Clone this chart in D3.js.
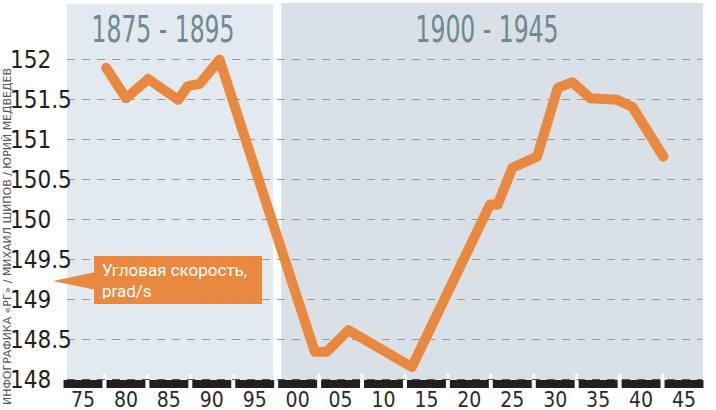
<!DOCTYPE html>
<html>
<head>
<meta charset="utf-8">
<title>Угловая скорость</title>
<script src="https://d3js.org/d3.v7.min.js"></script>
<style>
body { margin: 0; background: #fff; }
svg { display: block; }
.ylab { font-family: "Liberation Sans Narrow", "DejaVu Sans Condensed", sans-serif; font-size: 24px; fill: #231f20; }
.xlab { font-family: "Liberation Sans Narrow", "DejaVu Sans Condensed", sans-serif; font-size: 21px; fill: #2a2a2a; text-anchor: middle; }
.period { font-family: "Liberation Sans Narrow", "DejaVu Sans Condensed", sans-serif; font-size: 38px; fill: #6f8893; text-anchor: middle; }
.note { font-family: Roboto, "Open Sans", sans-serif; font-size: 17px; fill: #fff; }
.credit { font-family: "DejaVu Sans Condensed", sans-serif; font-size: 10px; fill: #555; }
</style>
</head>
<body>
<svg id="chart" width="716" height="410"></svg>
<script>
// angular velocity, prad/s
var years  = [1877.7, 1880.0, 1882.6, 1886.1, 1887.2, 1888.6, 1890.9, 1902.0, 1903.4, 1905.9, 1913.3,
              1922.4, 1923.3, 1925.0, 1927.9, 1930.3, 1932.0, 1934.1, 1937.2, 1939.0, 1942.6];
var values = [151.89, 151.51, 151.75, 151.49, 151.66, 151.69, 151.99, 148.34, 148.34, 148.61, 148.15,
              150.18, 150.18, 150.64, 150.78, 151.64, 151.71, 151.51, 151.49, 151.40, 150.78];

var tickYears  = [1875, 1880, 1885, 1890, 1895, 1900, 1905, 1910, 1915, 1920, 1925, 1930, 1935, 1940, 1945];
var tickLabels = ["75", "80", "85", "90", "95", "00", "05", "10", "15", "20", "25", "30", "35", "40", "45"];
var yTicks = [148, 148.5, 149, 149.5, 150, 150.5, 151, 151.5, 152];

var periods = [
  {label: "1875 - 1895", from: 1872.5, to: 1897.5, fill: "#e2eaf0"},
  {label: "1900 - 1945", from: 1897.5, to: 1947.5, fill: "#d9e0e6"}
];

var svg = d3.select("#chart");

var x = d3.scaleLinear().domain([1875, 1945]).range([83, 684]);
var y = d3.scaleLinear().domain([148, 152]).range([379, 59]);

// period panels
svg.selectAll("rect.panel")
  .data(periods)
  .enter().append("rect")
    .attr("class", "panel")
    .attr("x", function(d, i) { return x(d.from) + (i == 0 ? 5.5 : 5); })
    .attr("width", function(d, i) { return x(d.to) - x(d.from) - (i == 0 ? 8.5 : 7.5); })
    .attr("y", function(d, i) { return i == 0 ? 4 : 3; })
    .attr("height", function(d, i) { return i == 0 ? 376 : 377; })
    .attr("fill", function(d) { return d.fill; });

svg.selectAll("text.period")
  .data(periods)
  .enter().append("text")
    .attr("class", "period")
    .attr("x", function(d, i) { return i == 0 ? 163 : 487; })
    .attr("y", 42)
    .attr("textLength", 143)
    .attr("lengthAdjust", "spacingAndGlyphs")
    .text(function(d) { return d.label; });

// callout
var note = svg.append("g");
note.append("path")
  .attr("d", "M53,281L96,272L96,290Z")
  .attr("fill", "#e8893f");
note.append("rect")
  .attr("x", 94).attr("y", 256).attr("width", 168).attr("height", 48)
  .attr("fill", "#e8893f");
note.append("text").attr("class", "note").attr("x", 102).attr("y", 276).text("Угловая скорость,");
note.append("text").attr("class", "note").attr("x", 102).attr("y", 297).text("prad/s");

// bottom bar with white tick gaps
var bounds = d3.range(1872.5, 1950, 5);
svg.selectAll("rect.seg")
  .data(tickYears)
  .enter().append("rect")
    .attr("class", "seg")
    .attr("x", function(d) { return x(d - 2.5) + 2; })
    .attr("width", function(d) { return x(d + 2.5) - x(d - 2.5) - 4; })
    .attr("y", 380)
    .attr("height", 8)
    .attr("fill", "#231f20");
svg.selectAll("line.tick")
  .data(bounds.slice(1, -1))
  .enter().append("line")
    .attr("x1", function(d) { return x(d); })
    .attr("x2", function(d) { return x(d); })
    .attr("y1", 374).attr("y2", 380)
    .attr("stroke", "#fff")
    .attr("stroke-width", 3);

// dashed grid
svg.selectAll("line.grid")
  .data(yTicks)
  .enter().append("line")
    .attr("class", "grid")
    .attr("x1", 67).attr("x2", 702)
    .attr("y1", function(d) { return y(d) + 0.5; })
    .attr("y2", function(d) { return y(d) + 0.5; })
    .attr("stroke", function(d) { return d == 148 ? "#555" : "#999"; })
    .attr("stroke-width", 1)
    .attr("stroke-dasharray", "8,7");

// y labels
svg.selectAll("text.ylab")
  .data(yTicks)
  .enter().append("text")
    .attr("class", "ylab")
    .attr("x", 10)
    .attr("y", function(d) { return y(d) + 8.5; })
    .text(function(d) { return d; });

// x labels
svg.selectAll("text.xlab")
  .data(tickYears)
  .enter().append("text")
    .attr("class", "xlab")
    .attr("x", function(d) { return x(d); })
    .attr("y", 407)
    .text(function(d, i) { return tickLabels[i]; });

// the line
var line = d3.line()
  .x(function(d, i) { return x(years[i]); })
  .y(function(d) { return y(d); });

svg.append("path")
  .datum(values)
  .attr("d", line)
  .attr("fill", "none")
  .attr("stroke", "#e8893f")
  .attr("stroke-width", 10)
  .attr("stroke-linejoin", "round")
  .attr("stroke-linecap", "round");

// credit
svg.append("text")
  .attr("class", "credit")
  .attr("transform", "translate(11,405) rotate(-90)")
  .attr("textLength", 337)
  .attr("lengthAdjust", "spacingAndGlyphs")
  .text("ИНФОГРАФИКА «РГ» / МИХАИЛ ШИПОВ / ЮРИЙ МЕДВЕДЕВ");
</script>
</body>
</html>
